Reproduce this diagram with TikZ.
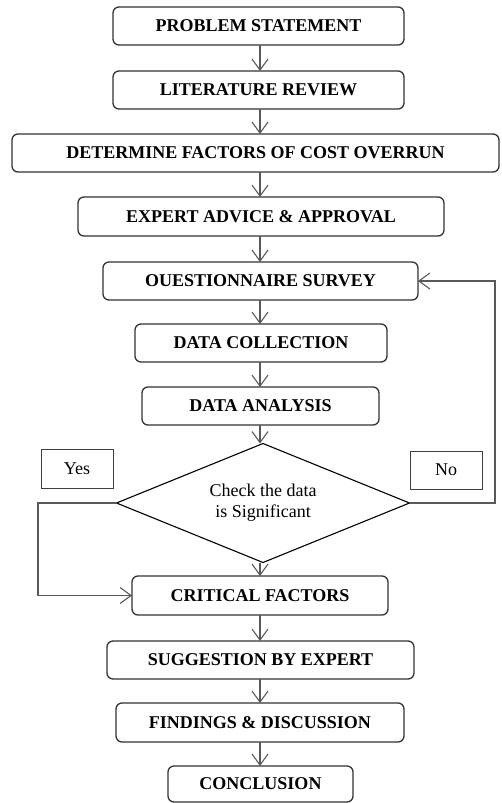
\documentclass[tikz,border=0pt]{standalone}
\usepackage{fontspec}
\setmainfont{Liberation Serif}
\usetikzlibrary{shapes.geometric,arrows.meta}
\begin{document}
\begin{tikzpicture}[x=1pt,y=-1pt,
  stepbox/.style={draw=black!80, line width=1.3pt, rounded corners=6pt, minimum height=38pt, inner sep=0pt, outer sep=0pt, font=\bfseries\fontsize{18}{21}\selectfont},
  labbox/.style={draw=black!75, line width=1pt, minimum width=72pt, minimum height=39pt, inner sep=0pt, outer sep=0pt, font=\fontsize{18}{21}\selectfont},
  arr/.style={draw=black!65, line width=1.1pt, -{Straight Barb[length=11pt,width=16pt,line width=1.1pt]}}
]
\useasboundingbox (0,0) rectangle (502,803);
\node[stepbox, minimum width=291pt] (ps) at (258.5,26) {PROBLEM STATEMENT};
\node[stepbox, minimum width=291pt] (lr) at (258.5,90) {LITERATURE REVIEW};
\node[stepbox, minimum width=487pt] (df) at (255.5,153) {DETERMINE FACTORS OF COST OVERRUN};
\node[stepbox, minimum width=366pt, minimum height=39pt] (ea) at (261,216.5) {EXPERT ADVICE \& APPROVAL};
\node[stepbox, minimum width=315pt] (qs) at (260.5,281) {OUESTIONNAIRE SURVEY};
\node[stepbox, minimum width=252pt] (dc) at (261,343) {DATA COLLECTION};
\node[stepbox, minimum width=237pt] (da) at (260.5,406) {DATA ANALYSIS};
\node[diamond, draw=black, line width=1.1pt, aspect=2.5, minimum width=293pt, minimum height=119pt, inner sep=0pt, outer sep=0pt, align=center, font=\fontsize{18}{21}\selectfont] (dia) at (263,503) {Check the data\\is Significant};
\node[labbox] (yes) at (77,469) {Yes};
\node[labbox, minimum height=38pt] (no) at (446,470) {No};
\node[stepbox, minimum width=256pt, minimum height=39pt] (cf) at (260,595.5) {CRITICAL FACTORS};
\node[stepbox, minimum width=307pt] (sg) at (260.5,660) {SUGGESTION BY EXPERT};
\node[stepbox, minimum width=288pt, minimum height=39pt] (fd) at (260,722.5) {FINDINGS \& DISCUSSION};
\node[stepbox, minimum width=185pt, minimum height=36pt] (cc) at (260.5,784) {CONCLUSION};
\coordinate (ax) at (260,0);
\draw[arr] (ax |- ps.south) -- (ax |- lr.north);
\draw[arr] (ax |- lr.south) -- (ax |- df.north);
\draw[arr] (ax |- df.south) -- (ax |- ea.north);
\draw[arr] (ax |- ea.south) -- (ax |- qs.north);
\draw[arr] (ax |- qs.south) -- (ax |- dc.north);
\draw[arr] (ax |- dc.south) -- (ax |- da.north);
\draw[arr] (ax |- da.south) -- (ax |- dia.north);
\draw[arr] (dia.south -| ax) -- (ax |- cf.north);
\draw[arr] (ax |- cf.south) -- (ax |- sg.north);
\draw[arr] (ax |- sg.south) -- (ax |- fd.north);
\draw[arr] (ax |- fd.south) -- (ax |- cc.north);
\coordinate (nr) at (495,281);
\draw[arr] (dia.east) -| (nr) -- (qs.east);
\coordinate (yl) at (38,503);
\draw[arr] (dia.west) -- (yl) |- (cf.west);
\end{tikzpicture}
\end{document}
